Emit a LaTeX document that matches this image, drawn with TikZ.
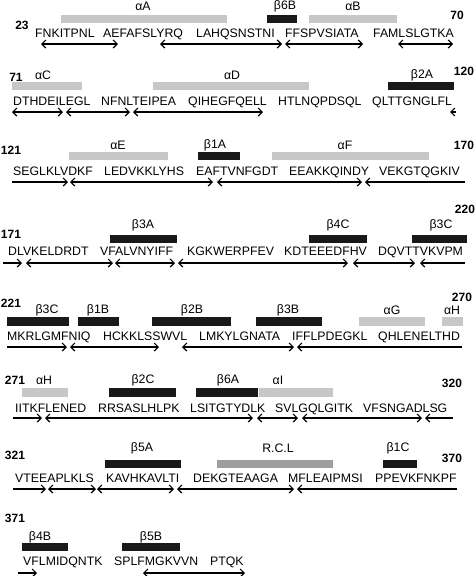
\documentclass[tikz,border=0pt]{standalone}
\usepackage{fontspec}
\setmainfont{Liberation Sans}
\usetikzlibrary{arrows.meta}

\tikzset{
  seq/.style={anchor=base west, inner sep=0pt, font=\fontsize{12.3}{14}\selectfont},
  lab/.style={inner sep=0pt, font=\fontsize{12.3}{14}\selectfont},
  num/.style={inner sep=0pt, font=\fontsize{12}{14}\selectfont\bfseries},
  helix/.style={fill=black!22},
  strand/.style={fill=black!90},
  rcl/.style={fill=black!38},
  arr/.style={line width=1.2pt},
  lr/.style={<->}, rr/.style={->}, ll/.style={<-},
}

\begin{document}
\begin{tikzpicture}[x=1pt,y=-1pt,>={Straight Barb[length=4pt,width=8pt]}]
\useasboundingbox (0,0) rectangle (475,576);
% 23 - 70
\node[num] (n23) at (22,25) {23};
\node[num] (n70) at (457,15) {70};
\foreach \x/\s [count=\i] in {35/FNKITPNL,103/AEFAFSLYRQ,196/LAHQSNSTNI,285/FFSPVSIATA,373/FAMLSLGTKA}
  \node[seq] (a\i) at (\x,37.4) {\s};
\foreach \p/\q/\k/\lx/\t [count=\i] in {61/227/helix/143/αA,267/297/strand/285/β6B,309/397/helix/353/αB}{
  \fill[\k] (\p,15) rectangle (\q,23);
  \node[lab] (ah\i) at (\lx,6) {\t};
}
\foreach \d/\p/\q in {lr/41/118,lr/160/282,lr/285/363,lr/398/453}
  \draw[arr,\d] (\p,44) -- (\q,44);
% 71 - 120
\node[num] (n71) at (16,77) {71};
\node[num] (n120) at (464,71) {120};
\foreach \x/\s [count=\i] in {13/DTHDEILEGL,101/NFNLTEIPEA,188/QIHEGFQELL,278/HTLNQPDSQL,372/QLTTGNGLFL}
  \node[seq] (b\i) at (\x,105.4) {\s};
\foreach \p/\q/\k/\lx/\t [count=\i] in {12/82/helix/43/αC,153/309/helix/232/αD,388/454/strand/422/β2A}{
  \fill[\k] (\p,82) rectangle (\q,90);
  \node[lab] (bh\i) at (\lx,75) {\t};
}
\foreach \d/\p/\q in {lr/12/63,lr/66/130,lr/133/263,ll/450/456}
  \draw[arr,\d] (\p,112) -- (\q,112);
% 121 - 170
\node[num] (n121) at (11,150) {121};
\node[num] (n170) at (464,145) {170};
\foreach \x/\s [count=\i] in {13/SEGLKLVDKF,104/LEDVKKLYHS,196/EAFTVNFGDT,289/EEAKKQINDY,379/VEKGTQGKIV}
  \node[seq] (c\i) at (\x,175.4) {\s};
\foreach \p/\q/\k/\lx/\t [count=\i] in {69/168/helix/118/αE,198/240/strand/215/β1A,272/429/helix/345/αF}{
  \fill[\k] (\p,152) rectangle (\q,160);
  \node[lab] (ch\i) at (\lx,145) {\t};
}
\foreach \d/\p/\q in {rr/12/68,lr/70/213,lr/217/362,ll/365/465}
  \draw[arr,\d] (\p,182) -- (\q,182);
% 171 - 220
\node[num] (n171) at (11,234) {171};
\node[num] (n220) at (465,209) {220};
\foreach \x/\s [count=\i] in {8/DLVKELDRDT,100/VFALVNYIFF,187/KGKWERPFEV,284/KDTEEEDFHV,378/DQVTTVKVPM}
  \node[seq] (d\i) at (\x,255.4) {\s};
\foreach \p/\q/\k/\lx/\t [count=\i] in {110/177/strand/143/β3A,309/367/strand/338/β4C,412/467/strand/441/β3C}{
  \fill[\k] (\p,235) rectangle (\q,243);
  \node[lab] (dh\i) at (\lx,225) {\t};
}
\foreach \d/\p/\q in {rr/3/22,lr/26/113,lr/115/175,lr/178/348,lr/353/415,ll/420/465}
  \draw[arr,\d] (\p,263) -- (\q,263);
% 221 - 270
\node[num] (n221) at (11,303) {221};
\node[num] (n270) at (462,297) {270};
\foreach \x/\s [count=\i] in {7/MKRLGMFNIQ,103/HCKKLSSWVL,199/LMKYLGNATA,292/IFFLPDEGKL,378/QHLENELTHD}
  \node[seq] (e\i) at (\x,340.4) {\s};
\foreach \p/\q/\k/\lx/\t [count=\i] in {7/69/strand/47/β3C,78/119/strand/98/β1B,152/231/strand/192/β2B,256/322/strand/288/β3B,359/425/helix/392/αG,442/463/helix/452/αH}{
  \fill[\k] (\p,317) rectangle (\q,326);
  \node[lab] (eh\i) at (\lx,310) {\t};
}
\foreach \d/\p/\q in {rr/7/67,lr/70/159,lr/182/294,ll/297/462}
  \draw[arr,\d] (\p,347) -- (\q,347);
% 271 - 320
\node[num] (n271) at (15,380) {271};
\node[num] (n320) at (452,383) {320};
\foreach \x/\s [count=\i] in {15/IITKFLENED,98/RRSASLHLPK,190/LSITGTYDLK,275/SVLGQLGITK,363/VFSNGADLSG}
  \node[seq] (f\i) at (\x,412.4) {\s};
\foreach \p/\q/\k/\lx/\t [count=\i] in {22/68/helix/44/αH,109/176/strand/143/β2C,196/258/strand/228/β6A,259/333/helix/278/αI}{
  \fill[\k] (\p,388) rectangle (\q,397);
  \node[lab] (fh\i) at (\lx,380) {\t};
}
\foreach \d/\p/\q in {rr/13/42,lr/45/253,lr/257/298,lr/302/422,ll/425/453}
  \draw[arr,\d] (\p,418) -- (\q,418);
% 321 - 370
\node[num] (n321) at (15,455) {321};
\node[num] (n370) at (452,458) {370};
\foreach \x/\s [count=\i] in {15/VTEEAPLKLS,106/KAVHKAVLTI,193/DEKGTEAAGA,288/MFLEAIPMSI,375/PPEVKFNKPF}
  \node[seq] (g\i) at (\x,482.4) {\s};
\foreach \p/\q/\k/\lx/\t [count=\i] in {105/181/strand/142/β5A,217/333/rcl/278/R.C.L,383/417/strand/398/β1C}{
  \fill[\k] (\p,460) rectangle (\q,468);
  \node[lab] (gh\i) at (\lx,448) {\t};
}
\foreach \d/\p/\q in {rr/13/46,lr/48/96,lr/97/174,lr/177/294,ll/297/457}
  \draw[arr,\d] (\p,489) -- (\q,489);
% 371 -
\node[num] (n371) at (15,518) {371};
\foreach \x/\s [count=\i] in {23/VFLMIDQNTK,114/SPLFMGKVVN,210/PTQK}
  \node[seq] (h\i) at (\x,565.4) {\s};
\foreach \p/\q/\k/\lx/\t [count=\i] in {22/68/strand/40/β4B,122/180/strand/151/β5B}{
  \fill[\k] (\p,543) rectangle (\q,551);
  \node[lab] (hh\i) at (\lx,537) {\t};
}
\foreach \d/\p/\q in {rr/18/37,lr/143/245}
  \draw[arr,\d] (\p,573) -- (\q,573);
\end{tikzpicture}
\end{document}
